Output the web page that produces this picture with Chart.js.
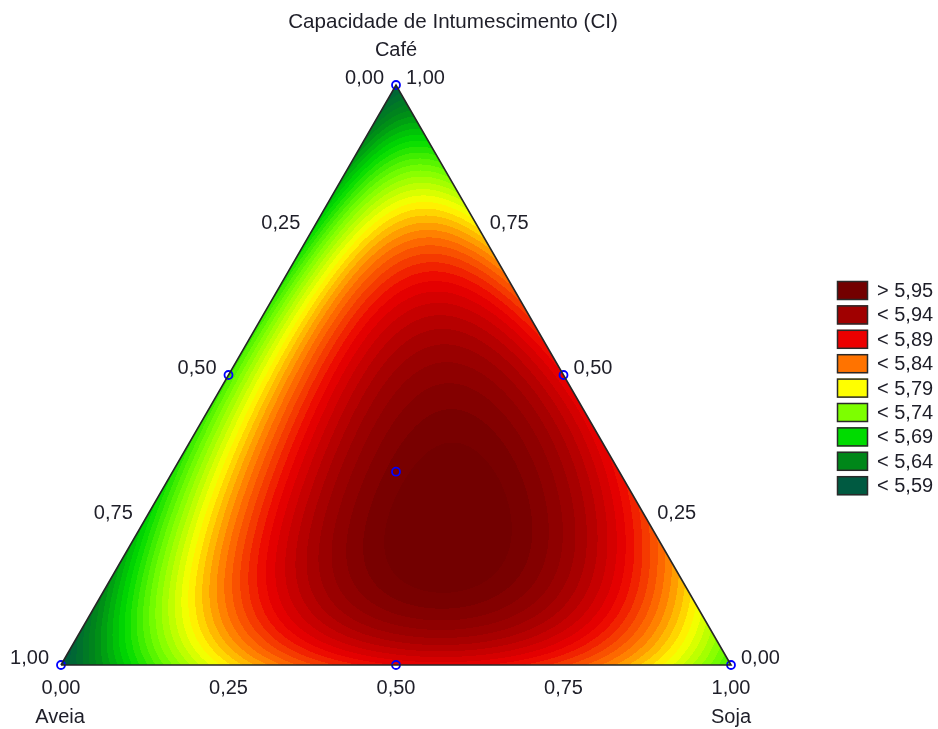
<!DOCTYPE html>
<html>
<head>
<meta charset="utf-8">
<script src="https://cdn.jsdelivr.net/npm/chart.js@4/dist/chart.umd.min.js"></script>
<style>
  html, body { margin: 0; padding: 0; background: #ffffff; }
  #wrap { width: 938px; height: 729px; }
</style>
</head>
<body>
<div id="wrap"><canvas id="c" width="938" height="729"></canvas></div>
<script>
// Simplex-centroid mixture design (fractions of each component) and measured CI
const aveia = [1, 0, 0, 0.5, 0.5, 0, 1 / 3];
const cafe  = [0, 1, 0, 0.5, 0, 0.5, 1 / 3];
const soja  = [0, 0, 1, 0, 0.5, 0.5, 1 / 3];
const ci    = [5.56, 5.57, 5.69, 5.69, 5.865, 5.865, 5.95];

// Interior check blend (Aveia, Café, Soja) and its response
const checkBlend = [1 / 6, 2 / 3, 1 / 6];
const checkCI = 5.85;

// Axis tick labels (fractions 0 .. 1)
const tickValues = [0, 0.25, 0.5, 0.75, 1];
const tickLabels = ['0,00', '0,25', '0,50', '0,75', '1,00'];

// Contour classes, top to bottom
const legendLabels = ['> 5,95', '< 5,94', '< 5,89', '< 5,84', '< 5,79', '< 5,74', '< 5,69', '< 5,64', '< 5,59'];
const legendColors = ['#730000', '#a00000', '#eb0000', '#ff7300', '#ffff00', '#7dff00', '#00dc00', '#008719', '#005a41'];
// Value at which each class colour is reached (same order as above)
const legendStops  = [5.955, 5.915, 5.865, 5.815, 5.765, 5.715, 5.665, 5.615, 5.565];

const H = Math.sqrt(3) / 2;
const toXY = (a, c, s) => ({ x: s + c / 2, y: c * H });

// Special cubic Scheffé model through the seven design points
const yA = ci[0], yC = ci[1], yS = ci[2], yAC = ci[3], yAS = ci[4], yCS = ci[5], yACS = ci[6];
const bAC = 4 * yAC - 2 * (yA + yC);
const bAS = 4 * yAS - 2 * (yA + yS);
const bCS = 4 * yCS - 2 * (yC + yS);
const bACS = 27 * yACS - 12 * (yAC + yAS + yCS) + 3 * (yA + yC + yS);
function cubic(a, c, s) {
  return yA * a + yC * c + yS * s + bAC * a * c + bAS * a * s + bCS * c * s + bACS * a * c * s;
}
// Extra interior term (zero on the edges and at the centroid) set by the check blend
const shape = (a, c, s) => a * c * s * (c - 1 / 3) * (c - 1 / 3);
const kC = (checkCI - cubic(...checkBlend)) / shape(...checkBlend);
const model = (a, c, s) => cubic(a, c, s) + kC * shape(a, c, s);

function hexToRgb(h) {
  return [parseInt(h.slice(1, 3), 16), parseInt(h.slice(3, 5), 16), parseInt(h.slice(5, 7), 16)];
}
const stopRgb = legendColors.map(hexToRgb).reverse();
const stopVal = legendStops.slice().reverse();
function colourFor(v) {
  v = Math.round(v / 0.01) * 0.01; // banded contour steps
  if (v <= stopVal[0]) return stopRgb[0];
  const n = stopVal.length;
  if (v >= stopVal[n - 1]) return stopRgb[n - 1];
  for (let i = 0; i < n - 1; i++) {
    if (v <= stopVal[i + 1]) {
      const t = (v - stopVal[i]) / (stopVal[i + 1] - stopVal[i]);
      const c0 = stopRgb[i], c1 = stopRgb[i + 1];
      return [c0[0] + (c1[0] - c0[0]) * t, c0[1] + (c1[1] - c0[1]) * t, c0[2] + (c1[2] - c0[2]) * t];
    }
  }
  return stopRgb[n - 1];
}

// Triangle outline and design points in cartesian coordinates
const outline = [toXY(1, 0, 0), toXY(0, 0, 1), toXY(0, 1, 0), toXY(1, 0, 0)];
const designPts = aveia.map((a, i) => toXY(a, cafe[i], soja[i]));

const FONT = '20px "Liberation Sans", Arial, sans-serif';
const TITLE_FONT = '20.6px "Liberation Sans", Arial, sans-serif';
const TEXT = '#1e1e28';

// Draws the response surface, clipped to the simplex
const surfacePlugin = {
  id: 'surface',
  beforeDatasetsDraw(chart) {
    const xs = chart.scales.x, ys = chart.scales.y, ctx = chart.ctx;
    const verts = outline.slice(0, 3).map(p => [xs.getPixelForValue(p.x), ys.getPixelForValue(p.y)]);
    const x0 = Math.floor(Math.min(...verts.map(v => v[0]))) - 1;
    const x1 = Math.ceil(Math.max(...verts.map(v => v[0]))) + 1;
    const y0 = Math.floor(Math.min(...verts.map(v => v[1]))) - 1;
    const y1 = Math.ceil(Math.max(...verts.map(v => v[1]))) + 1;
    const w = x1 - x0, h = y1 - y0;
    const off = document.createElement('canvas');
    off.width = w; off.height = h;
    const octx = off.getContext('2d');
    const img = octx.createImageData(w, h);
    for (let j = 0; j < h; j++) {
      const yv = ys.getValueForPixel(y0 + j + 0.5);
      for (let i = 0; i < w; i++) {
        const xv = xs.getValueForPixel(x0 + i + 0.5);
        let c = yv / H, s = xv - c / 2, a = 1 - c - s;
        if (a < -0.01 || c < -0.01 || s < -0.01) continue;
        a = Math.max(0, a); c = Math.max(0, c); s = Math.max(0, s);
        const sum = a + c + s;
        const col = colourFor(model(a / sum, c / sum, s / sum));
        const k = (j * w + i) * 4;
        img.data[k] = col[0]; img.data[k + 1] = col[1]; img.data[k + 2] = col[2]; img.data[k + 3] = 255;
      }
    }
    octx.putImageData(img, 0, 0);
    ctx.save();
    ctx.beginPath();
    ctx.moveTo(verts[0][0], verts[0][1]);
    ctx.lineTo(verts[1][0], verts[1][1]);
    ctx.lineTo(verts[2][0], verts[2][1]);
    ctx.closePath();
    ctx.clip();
    ctx.drawImage(off, x0, y0);
    ctx.restore();
  }
};

// Title, component names, edge tick labels and the class legend
const textPlugin = {
  id: 'texts',
  afterDraw(chart) {
    const xs = chart.scales.x, ys = chart.scales.y, ctx = chart.ctx;
    const px = p => [xs.getPixelForValue(p.x), ys.getPixelForValue(p.y)];
    ctx.save();
    ctx.fillStyle = TEXT;
    ctx.textBaseline = 'middle';

    ctx.textAlign = 'center';
    ctx.font = TITLE_FONT;
    ctx.fillText('Capacidade de Intumescimento (CI)', 453, 22);
    ctx.font = FONT;

    const top = px(toXY(0, 1, 0)), bl = px(toXY(1, 0, 0)), br = px(toXY(0, 0, 1));
    ctx.fillText('Café', top[0], top[1] - 35);
    ctx.fillText('Aveia', bl[0] - 1, bl[1] + 52);
    ctx.fillText('Soja', br[0], br[1] + 52);

    tickValues.forEach((t, i) => {
      // left edge: Aveia fraction
      const l = px(toXY(t, 1 - t, 0));
      ctx.textAlign = 'right';
      ctx.fillText(tickLabels[i], l[0] - 12, l[1] - 7);
      // right edge: Café fraction
      const r = px(toXY(0, t, 1 - t));
      ctx.textAlign = 'left';
      ctx.fillText(tickLabels[i], r[0] + 10, r[1] - 7);
      // bottom edge: Soja fraction
      const b = px(toXY(1 - t, 0, t));
      ctx.textAlign = 'center';
      ctx.fillText(tickLabels[i], b[0], b[1] + 23);
    });

    // legend
    const lx = 837, ly = 281, bw = 31, bh = 19, step = 24.4;
    legendLabels.forEach((lab, i) => {
      const y = ly + i * step;
      ctx.fillStyle = legendColors[i];
      ctx.fillRect(lx, y, bw, bh);
      ctx.strokeStyle = '#2a2a2a';
      ctx.lineWidth = 1.5;
      ctx.strokeRect(lx + 0.5, y + 0.5, bw - 1, bh - 1);
      ctx.fillStyle = TEXT;
      ctx.textAlign = 'left';
      ctx.fillText(lab, 877, y + bh / 2 + 1);
    });
    ctx.restore();
  }
};

new Chart(document.getElementById('c'), {
  type: 'scatter',
  data: {
    datasets: [
      {
        label: 'simplex',
        data: outline,
        showLine: true,
        borderColor: '#262626',
        borderWidth: 1.6,
        pointRadius: 0,
        fill: false,
        tension: 0
      },
      {
        label: 'design',
        data: designPts,
        pointRadius: 4,
        pointBorderWidth: 1.8,
        pointBorderColor: '#0000ff',
        pointBackgroundColor: 'rgba(0,0,0,0)',
        showLine: false
      }
    ]
  },
  options: {
    responsive: false,
    animation: false,
    devicePixelRatio: 1,
    layout: { padding: 0, autoPadding: false },
    plugins: { legend: { display: false }, tooltip: { enabled: false }, title: { display: false } },
    scales: {
      x: { type: 'linear', display: false, min: -0.091045, max: 1.308955 },
      y: { type: 'linear', display: false, min: -0.09556, max: 0.99295 }
    }
  },
  plugins: [surfacePlugin, textPlugin]
});
</script>
</body>
</html>
